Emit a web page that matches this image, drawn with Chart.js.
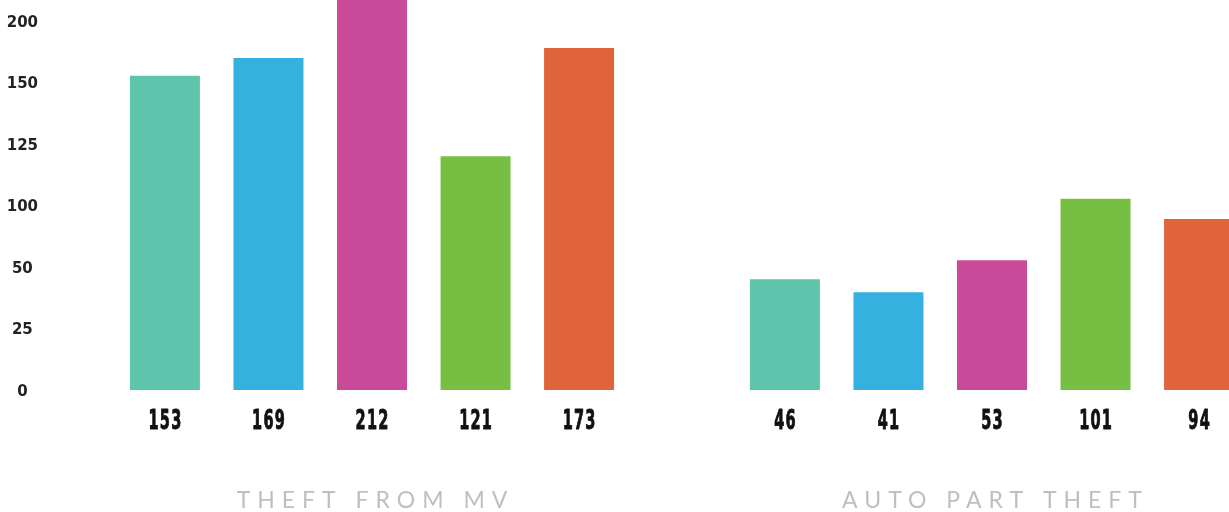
<!DOCTYPE html>
<html><head><meta charset="utf-8">
<script src="https://cdn.jsdelivr.net/npm/chart.js@4"></script>
<style>
html,body{margin:0;padding:0;background:#fff;overflow:hidden;width:1229px;height:512px}
#wrap{position:absolute;left:0;top:-80px;width:1302px;height:592px}
</style></head><body>
<div id="wrap"><canvas id="c" width="1302" height="592"></canvas></div>
<script>
// ---- data ----
const categories = ['THEFT FROM MV', 'AUTO PART THEFT'];
const tickLabels = ['0', '25', '50', '100', '125', '150', '200'];
// bar heights as drawn, in axis steps (one step per tick label)
const series1 = [5.11, 1.80];
const series2 = [5.40, 1.59];
const series3 = [7.00, 2.11];
const series4 = [3.80, 3.11];
const series5 = [5.56, 2.78];
// printed values under bars
const labels1 = ['153', '46'];
const labels2 = ['169', '41'];
const labels3 = ['212', '53'];
const labels4 = ['121', '101'];
const labels5 = ['173', '94'];

const colors = ['#5fc4ac', '#34b1de', '#ca4a9a', '#76bf43', '#df643a'];
const seriesList = [series1, series2, series3, series4, series5];
const labelList = [labels1, labels2, labels3, labels4, labels5];

const datasets = seriesList.map((s, i) => ({
  data: s,
  backgroundColor: colors[i],
  borderWidth: 0,
  categoryPercentage: 0.835,
  barPercentage: 0.676,
  valueLabels: labelList[i]
}));

const textPlugin = {
  id: 'textPlugin',
  afterDatasetsDraw(chart) {
    const ctx = chart.ctx;
    const y0 = chart.scales.y.getPixelForValue(0);
    // values below bars
    ctx.save();
    ctx.fillStyle = '#111';
    ctx.strokeStyle = '#111';
    ctx.lineWidth = 0.9;
    ctx.lineJoin = 'round';
    ctx.textAlign = 'left';
    ctx.textBaseline = 'alphabetic';
    ctx.font = 'bold 26px "Liberation Sans Narrow", "DejaVu Sans Condensed", sans-serif';
    const ls = 2;
    ctx.letterSpacing = ls + 'px';
    chart.data.datasets.forEach((ds, i) => {
      chart.getDatasetMeta(i).data.forEach((bar, j) => {
        const t = ds.valueLabels[j];
        const w = ctx.measureText(t).width - ls;
        ctx.save();
        ctx.translate(bar.x, y0 + 38.5);
        ctx.scale(0.62, 1);
        ctx.fillText(t, -w / 2, 0);
        ctx.strokeText(t, -w / 2, 0);
        ctx.restore();
      });
    });
    ctx.restore();
    // category labels
    ctx.save();
    ctx.fillStyle = '#bfbfbf';
    ctx.textAlign = 'left';
    ctx.textBaseline = 'alphabetic';
    ctx.font = '23px Lato, "Noto Sans", sans-serif';
    const sp = 7;
    ctx.letterSpacing = sp + 'px';
    const xs = chart.scales.x;
    categories.forEach((c, i) => {
      const w = ctx.measureText(c).width - sp;
      ctx.fillText(c, xs.getPixelForValue(i) - w / 2, y0 + 118);
    });
    ctx.restore();
  }
};

new Chart(document.getElementById('c'), {
  type: 'bar',
  data: { labels: categories, datasets },
  options: {
    responsive: false,
    devicePixelRatio: 1,
    animation: false,
    layout: { padding: { top: 8.75, bottom: 122, left: 0, right: 0 } },
    plugins: { legend: { display: false }, tooltip: { enabled: false } },
    scales: {
      x: { display: false },
      y: {
        min: 0, max: 7.5,
        border: { display: false },
        grid: { display: false, drawTicks: false, tickLength: 0 },
        afterFit(scale) { scale.width = 62; scale.paddingTop = 0; scale.paddingBottom = 0; },
        ticks: {
          stepSize: 1,
          crossAlign: 'center',
          padding: 24,
          labelOffset: 2,
          color: '#222',
          font: { family: '"DejaVu Sans"', weight: 'bold', size: 15 },
          callback: (v) => (Number.isInteger(v) && v < tickLabels.length) ? tickLabels[v] : ''
        }
      }
    }
  },
  plugins: [textPlugin]
});
</script>
</body></html>
